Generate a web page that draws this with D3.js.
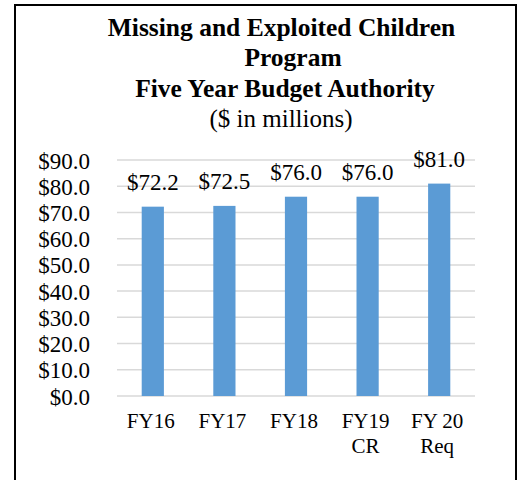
<!DOCTYPE html>
<html>
<head>
<meta charset="utf-8">
<script src="https://d3js.org/d3.v7.min.js"></script>
<style>
  body { margin: 0; background: #fff; }
  svg { display: block; font-family: "Liberation Serif", "Times New Roman", serif; }
</style>
</head>
<body>
<div id="vis"></div>
<script>
// chart data
const CATEGORIES = ["FY16", "FY17", "FY18", "FY19 CR", "FY 20 Req"];
const CATEGORY_LINES = [["FY16"], ["FY17"], ["FY18"], ["FY19", "CR"], ["FY 20", "Req"]];
const VALUES = [72.2, 72.5, 76.0, 76.0, 81.0];
const Y_TICKS = [0, 10, 20, 30, 40, 50, 60, 70, 80, 90];
const TITLE_LINES = ["Missing and Exploited Children", "Program", "Five Year Budget Authority"];
const SUBTITLE = "($ in millions)";

// frame constants
const FRAME_WIDTH = 519;
const FRAME_HEIGHT = 480;
const PLOT = {left: 117, right: 475, top: 160, bottom: 396};

const FRAME = d3.select("#vis")
  .append("svg")
  .attr("width", FRAME_WIDTH)
  .attr("height", FRAME_HEIGHT);

// outer border
FRAME.append("rect")
  .attr("x", 15)
  .attr("y", 5)
  .attr("width", 501)
  .attr("height", 520)
  .attr("fill", "none")
  .attr("stroke", "#000")
  .attr("stroke-width", 2);

// title
const TITLE_X = [281.5, 293, 285];
const TITLE_Y = [36, 66, 96.5];
FRAME.selectAll(".title")
  .data(TITLE_LINES)
  .enter()
  .append("text")
  .attr("class", "title")
  .attr("x", (d, i) => TITLE_X[i])
  .attr("y", (d, i) => TITLE_Y[i])
  .attr("text-anchor", "middle")
  .attr("font-size", "25.5px")
  .attr("font-weight", "bold")
  .text((d) => d);

FRAME.append("text")
  .attr("x", 281)
  .attr("y", 126.5)
  .attr("text-anchor", "middle")
  .attr("font-size", "25px")
  .text(SUBTITLE);

// scales
const X_SCALE = d3.scaleBand()
  .domain(CATEGORIES)
  .range([PLOT.left, PLOT.right])
  .paddingInner(0.69)
  .paddingOuter(0.345);

const Y_SCALE = d3.scaleLinear()
  .domain([0, 90])
  .range([PLOT.bottom, PLOT.top]);

// gridlines
FRAME.selectAll(".grid")
  .data(Y_TICKS)
  .enter()
  .append("line")
  .attr("class", "grid")
  .attr("x1", PLOT.left)
  .attr("x2", PLOT.right)
  .attr("y1", (d) => Y_SCALE(d))
  .attr("y2", (d) => Y_SCALE(d))
  .attr("stroke", "#d9d9d9")
  .attr("stroke-width", 1.5);

// y axis labels
const Y_AXIS = FRAME.append("g")
  .attr("transform", "translate(" + PLOT.left + ",0)")
  .call(d3.axisLeft(Y_SCALE)
    .tickValues(Y_TICKS)
    .tickSize(0)
    .tickPadding(27)
    .tickFormat((d) => "$" + d3.format(".1f")(d)));
Y_AXIS.select(".domain").remove();
Y_AXIS.selectAll("text")
  .attr("font-family", "Liberation Serif, Times New Roman, serif")
  .attr("font-size", "23px")
  .attr("fill", "#000")
  .attr("dy", "0.35em");

// bars
FRAME.selectAll(".bar")
  .data(VALUES)
  .enter()
  .append("rect")
  .attr("class", "bar")
  .attr("x", (d, i) => X_SCALE(CATEGORIES[i]))
  .attr("y", (d) => Y_SCALE(d))
  .attr("width", X_SCALE.bandwidth())
  .attr("height", (d) => Y_SCALE(0) - Y_SCALE(d))
  .attr("fill", "#5b9bd5");

// value labels
FRAME.selectAll(".val")
  .data(VALUES)
  .enter()
  .append("text")
  .attr("class", "val")
  .attr("x", (d, i) => X_SCALE(CATEGORIES[i]) + X_SCALE.bandwidth() / 2)
  .attr("y", (d) => Y_SCALE(d) - 17)
  .attr("text-anchor", "middle")
  .attr("font-size", "23px")
  .text((d) => "$" + d3.format(".1f")(d));

// x axis labels
const X_LABELS = FRAME.selectAll(".xlab")
  .data(CATEGORY_LINES)
  .enter()
  .append("text")
  .attr("class", "xlab")
  .attr("x", (d, i) => X_SCALE(CATEGORIES[i]) + X_SCALE.bandwidth() / 2 - 2)
  .attr("y", 428)
  .attr("text-anchor", "middle")
  .attr("font-size", "21px");

X_LABELS.selectAll("tspan")
  .data((d) => d)
  .enter()
  .append("tspan")
  .attr("x", function() { return d3.select(this.parentNode).attr("x"); })
  .attr("dy", (d, i) => i === 0 ? 0 : 24.7)
  .text((d) => d);
</script>
</body>
</html>
